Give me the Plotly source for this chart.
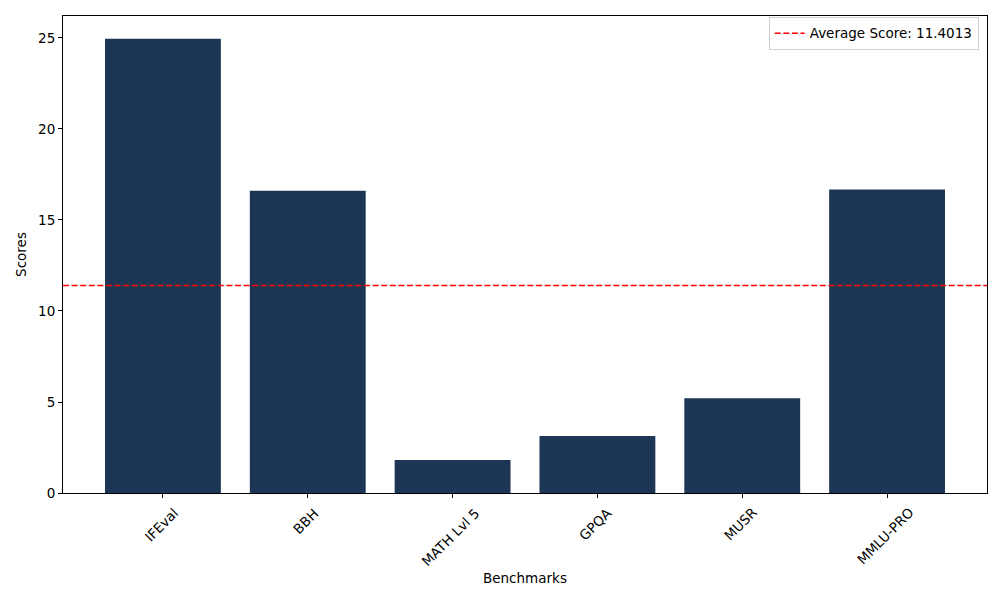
import plotly.graph_objects as go

benchmarks = ["IFEval", "BBH", "MATH Lvl 5", "GPQA", "MUSR", "MMLU-PRO"]
scores = [24.96, 16.61, 1.81, 3.13, 5.21, 16.68]
average_score = 11.4013

bar_color = "#1e3656"
font = dict(family="DejaVu Sans", size=13.5, color="black")
dash = "6px,2.6px"

fig = go.Figure()
fig.add_trace(go.Bar(x=benchmarks, y=scores, marker_color=bar_color,
                     marker_line_width=0, width=0.8, showlegend=False))
# legend entry for the average line
fig.add_trace(go.Scatter(x=[None], y=[None], mode="lines",
                         line=dict(color="red", dash=dash, width=1.6),
                         name=f"Average Score: {average_score:.4f}"))
fig.add_hline(y=average_score, line=dict(color="red", dash=dash, width=1.6))

# rotated tick labels centred under each tick, matplotlib style
for name in benchmarks:
    fig.add_annotation(x=name, y=0, xref="x", yref="paper", text=name,
                       textangle=-45, showarrow=False, xanchor="center",
                       yanchor="top", yshift=-9, xshift=-2, font=font)
fig.add_annotation(x=0.5, y=0, xref="paper", yref="paper", text="Benchmarks",
                   showarrow=False, xanchor="center", yanchor="middle",
                   yshift=-85, font=font)

axis_style = dict(showline=True, linecolor="black", linewidth=1, mirror=True,
                  ticks="outside", ticklen=4, tickcolor="black",
                  showgrid=False, zeroline=False, tickfont=font)

fig.update_xaxes(showticklabels=False, range=[-0.69, 5.69], **axis_style)
fig.update_yaxes(title=dict(text="Scores", font=font, standoff=8),
                 range=[0, max(scores) * 1.05], dtick=5, **axis_style)

fig.update_layout(
    width=1000, height=600,
    margin=dict(l=55, r=21, t=8, b=115),
    plot_bgcolor="white", paper_bgcolor="white",
    font=font,
    legend=dict(x=0.991, y=0.998, xanchor="right", yanchor="top",
                bordercolor="#d0d0d0", borderwidth=1, bgcolor="white",
                font=font),
)

fig.write_html("out.html")
